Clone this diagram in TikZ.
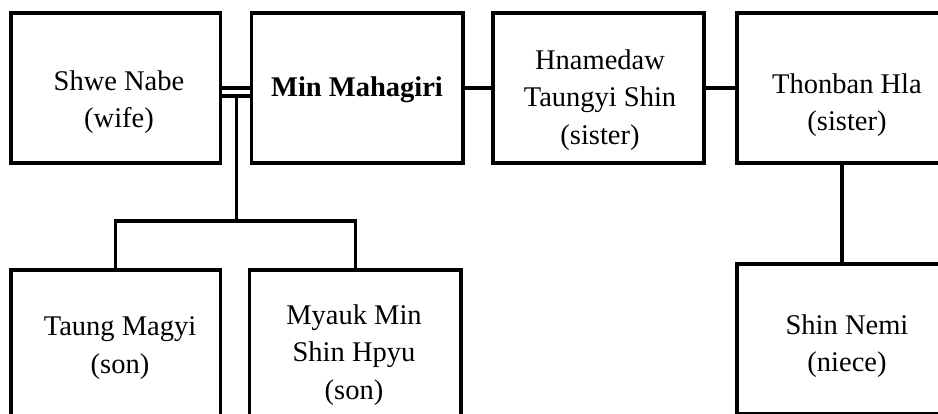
\documentclass[tikz,border=0pt]{standalone}
\usepackage{fontspec}
\setmainfont{Liberation Serif}
\begin{document}
\begin{tikzpicture}[x=1pt,y=-1pt,
  box/.style={draw=black,line width=3.3pt,inner sep=0pt,minimum height=150pt},
  lbl/.style={align=center,inner sep=0pt,font=\fontsize{28.5}{37.5}\selectfont},
  conn/.style={draw=black,line width=3.2pt}]
\useasboundingbox (0,0) rectangle (938,414);
\clip (0,0) rectangle (938,414);
\fill[white] (0,0) rectangle (938,414);
% boxes
\node[box,minimum width=209.5pt] (sn) at (115.75,88) {};
\node[box,minimum width=211.5pt] (mg) at (357.25,88) {};
\node[box,minimum width=211pt] (hn) at (598.5,88) {};
\node[box,minimum width=210pt] (th) at (842,88) {};
\node[box,minimum width=209.5pt] (tm) at (115.75,345) {};
\node[box,minimum width=211.5pt] (mm) at (355.25,345) {};
\node[box,minimum width=210pt] (nm) at (842,339) {};
% labels
\node[lbl] (snT) at (119,102) {Shwe Nabe\\(wife)};
\node[lbl] (mgT) at (357,90) {\bfseries Min Mahagiri};
\node[lbl] (hnT) at (600,100) {Hnamedaw\\Taungyi Shin\\(sister)};
\node[lbl] (thT) at (847,105) {Thonban Hla\\(sister)};
\node[lbl] (tmT) at (120,348) {Taung Magyi\\(son)};
\node[lbl] (mmT) at (354,355) {Myauk Min\\Shin Hpyu\\(son)};
\node[lbl] (nmT) at (847,346) {Shin Nemi\\(niece)};
% connectors
\draw[conn] (sn.east) -- (mg.west);
\coordinate (dlA) at ([yshift=-8pt]sn.east);
\coordinate (dlB) at ([yshift=-8pt]mg.west);
\draw[conn] (dlA) -- (dlB);
\coordinate (mid) at (236.5,221);
\draw[conn] (mid) -- (mid |- dlA);
\draw[conn] (tm.north) |- (mid) -| (mm.north);
\draw[conn] (mg.east) -- (hn.west);
\draw[conn] (hn.east) -- (th.west);
\draw[conn] (th.south) -- (nm.north);
\end{tikzpicture}
\end{document}
